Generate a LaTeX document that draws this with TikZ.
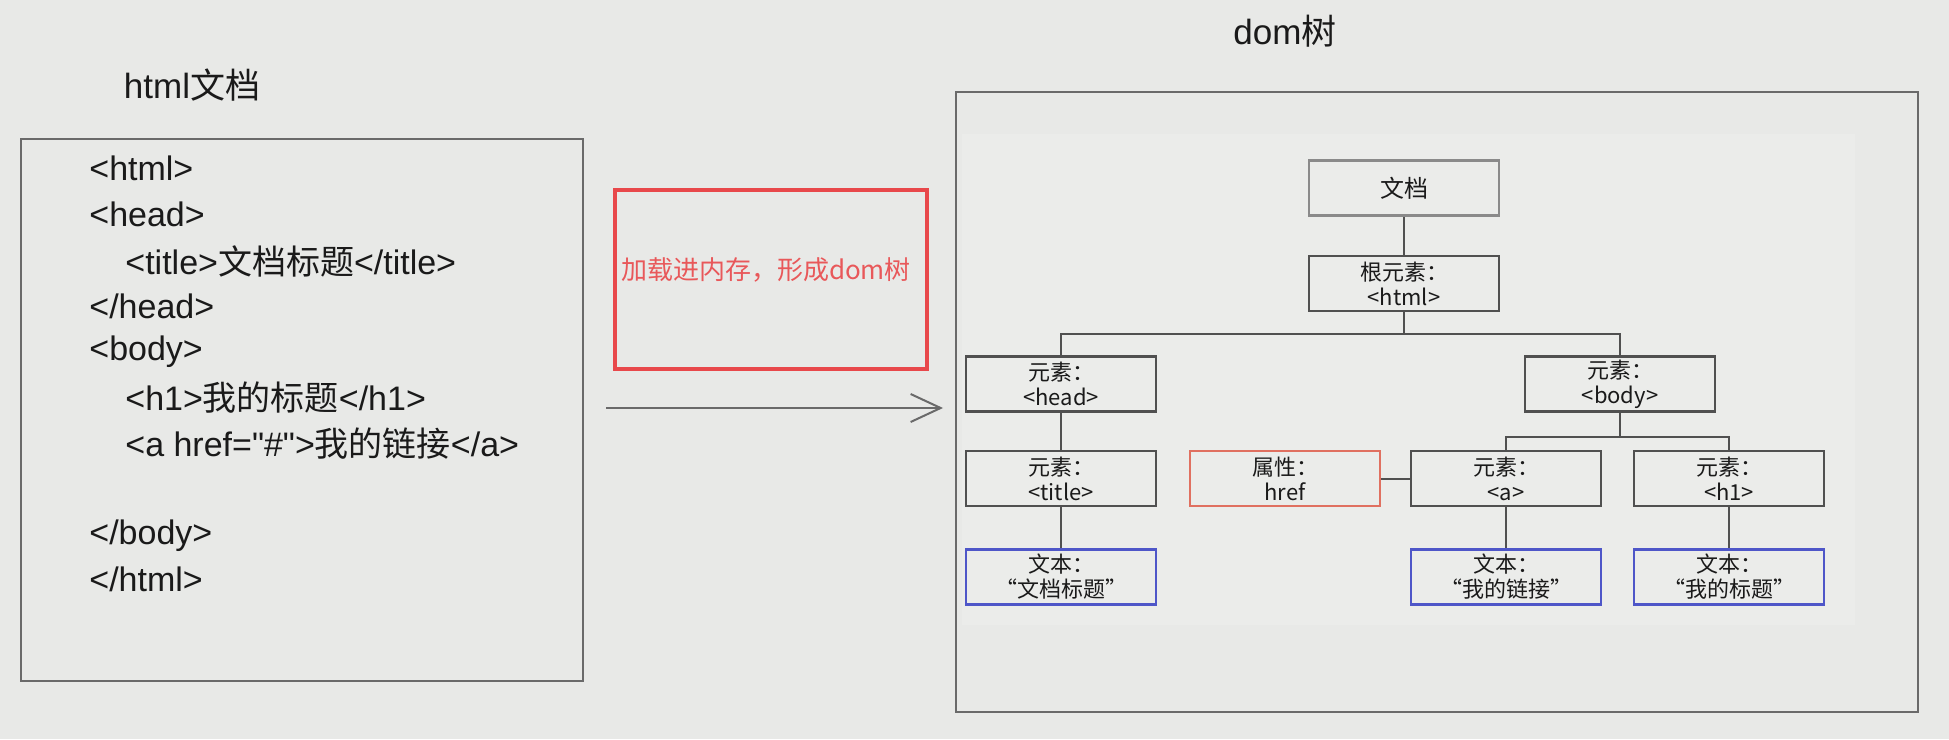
\documentclass[tikz,border=0pt]{standalone}
\usepackage{fontspec}
\setmainfont{Liberation Sans}
\newfontfamily\cjk{Noto Sans CJK SC}
\usetikzlibrary{arrows.meta}
\definecolor{bg}{HTML}{E8E9E7}
\definecolor{innerbg}{HTML}{EBECEA}
\definecolor{framec}{HTML}{6A6A6A}
\definecolor{treeline}{HTML}{505050}
\definecolor{docline}{HTML}{8A8A8A}
\definecolor{redbox}{HTML}{E8484B}
\definecolor{redtext}{HTML}{E8585A}
\definecolor{hrefred}{HTML}{E07060}
\definecolor{blueb}{HTML}{4E56C8}
\definecolor{txt}{HTML}{1A1A1A}
\begin{document}
\begin{tikzpicture}[x=0.5pt,y=-0.5pt,
  codeline/.style={anchor=west, inner sep=0pt, font=\fontsize{17}{20}\selectfont, text=txt},
  heading/.style={inner sep=0pt, font=\fontsize{17.5}{20}\selectfont, text=txt},
  bigframe/.style={draw=framec, line width=1.2pt, inner sep=0pt},
  tbox/.style={draw=treeline, line width=1.3pt, minimum width=95pt, minimum height=27.5pt,
    inner sep=0pt, align=center, font=\cjk\fontsize{11}{12.5}\selectfont, text=txt},
  docbox/.style={tbox, draw=docline},
  hrefbox/.style={tbox, draw=hrefred},
  textbox/.style={tbox, draw=blueb},
  conn/.style={draw=treeline, line width=1pt},
  bigarrow/.style={draw=framec, line width=1pt, -{Straight Barb[length=15pt,width=14pt,line width=1pt]}}
]
\useasboundingbox (0,0) rectangle (1949,739);
\fill[bg] (0,0) rectangle (1949,739);

% titles
\node[heading] (t-html) at (192,85) {html{\cjk 文档}};
\node[heading] (t-dom) at (1285,31) {dom{\cjk 树}};

% left html document box
\node[bigframe, minimum width=281pt, minimum height=271pt] (docframe) at (302,410) {};
\node[codeline] (c1) at (89,168) {<html>};
\node[codeline] (c2) at (89,214) {<head>};
\node[codeline] (c3) at (125,261) {<title>{\cjk 文档标题}</title>};
\node[codeline] (c4) at (89,306) {</head>};
\node[codeline] (c5) at (89,352) {<body>};
\node[codeline] (c6) at (125,398) {<h1>{\cjk 我的标题}</h1>};
\node[codeline] (c7) at (125,444) {<a href=\textquotedbl\#\textquotedbl>{\cjk 我的链接}</a>};
\node[codeline] (c8) at (89,536) {</body>};
\node[codeline] (c9) at (89,579) {</html>};

% red box
\node[draw=redbox, line width=2.4pt, minimum width=156pt, minimum height=89.5pt, inner sep=0pt] (load) at (771,279.5) {};
\node[inner sep=0pt, text=redtext, font=\cjk\fontsize{13}{15}\selectfont] (loadtxt) at (766,270) {加载进内存，形成dom树};

% arrow
\coordinate (arrs) at (606,408);
\coordinate (arre) at (943,408);
\draw[bigarrow] (arrs) -- (arre);

% right dom frame
\node[bigframe, minimum width=481pt, minimum height=310pt] (domframe) at (1437,402) {};
\fill[innerbg] (962,134) rectangle (1855,625);

% tree nodes
\node[docbox, font=\cjk\fontsize{12}{14}\selectfont] (doc) at (1404,188) {文档};
\node[tbox] (root) at (1404,283.5) {根元素：\\<html>};
\node[tbox] (head) at (1061,384) {元素：\\<head>};
\node[tbox] (body) at (1620,384) {元素：\\<body>};
\node[tbox] (title) at (1061,478.5) {元素：\\<title>};
\node[hrefbox] (href) at (1285,478.5) {属性：\\href};
\node[tbox] (a) at (1506,478.5) {元素：\\<a>};
\node[tbox] (h1) at (1729,478.5) {元素：\\<h1>};
\node[textbox] (tx1) at (1061,577) {文本：\\“文档标题”};
\node[textbox] (tx2) at (1506,577) {文本：\\“我的链接”};
\node[textbox] (tx3) at (1729,577) {文本：\\“我的标题”};

% connectors
\draw[conn] (doc) -- (root);
\draw[conn] (root.south) -- ++(0,22) -| (head.north);
\draw[conn] (root.south) -- ++(0,22) -| (body.north);
\draw[conn] (head) -- (title);
\draw[conn] (title) -- (tx1);
\draw[conn] (body.south) -- ++(0,24) -| (a.north);
\draw[conn] (body.south) -- ++(0,24) -| (h1.north);
\draw[conn] (href) -- (a);
\draw[conn] (a) -- (tx2);
\draw[conn] (h1) -- (tx3);
\end{tikzpicture}
\end{document}
